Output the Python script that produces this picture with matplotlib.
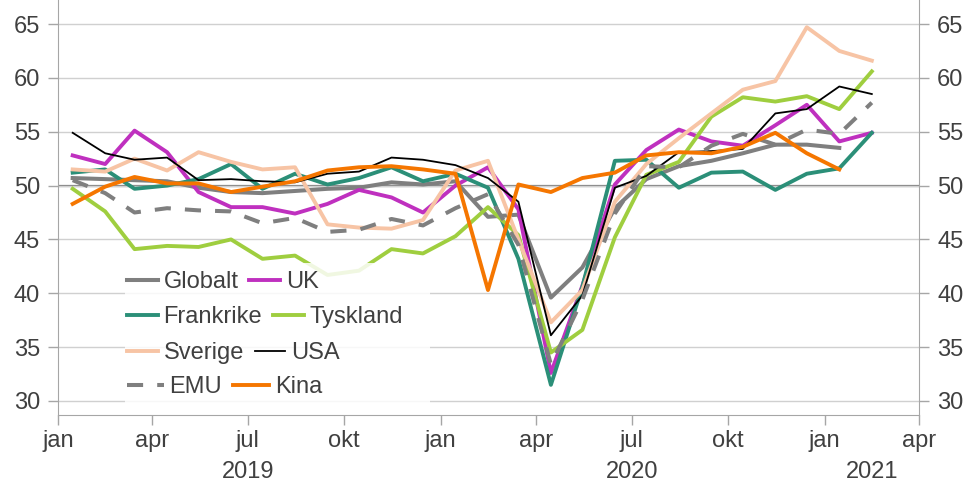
import numpy as np
import pandas as pd
import matplotlib
matplotlib.use("Agg")
import matplotlib.pyplot as plt
import matplotlib.dates as mdates
from matplotlib.patches import Rectangle
from matplotlib.transforms import blended_transform_factory

plt.rcParams['font.family'] = ['Liberation Sans', 'DejaVu Sans']

# PMI industri, månedlig, jan 2019 - feb 2021 (punkt midt i måneden)
months = pd.date_range("2019-01-01", periods=26, freq="MS") + pd.Timedelta(days=14)

globalt = [50.7, 50.6, 50.5, 50.4, 49.8, 49.4, 49.3, 49.5, 49.7, 49.8, 50.3, 50.1, 50.4,
           47.1, 47.3, 39.6, 42.4, 47.9, 50.6, 51.8, 52.3, 53.0, 53.8, 53.8, 53.5]
uk = [52.8, 52.0, 55.1, 53.1, 49.4, 48.0, 48.0, 47.4, 48.3, 49.6, 48.9, 47.5, 50.0,
      51.7, 47.8, 32.6, 40.7, 50.1, 53.3, 55.2, 54.1, 53.7, 55.6, 57.5, 54.1, 54.9]
frankrike = [51.2, 51.5, 49.7, 50.0, 50.6, 52.0, 49.7, 51.1, 50.1, 50.7, 51.7, 50.4, 51.1,
             49.8, 43.2, 31.5, 40.6, 52.3, 52.4, 49.8, 51.2, 51.3, 49.6, 51.1, 51.6, 54.9]
tyskland = [49.7, 47.6, 44.1, 44.4, 44.3, 45.0, 43.2, 43.5, 41.7, 42.1, 44.1, 43.7, 45.3,
            48.0, 45.4, 34.5, 36.6, 45.2, 51.0, 52.2, 56.4, 58.2, 57.8, 58.3, 57.1, 60.6]
sverige = [51.5, 51.3, 52.5, 51.4, 53.1, 52.2, 51.5, 51.7, 46.4, 46.1, 46.0, 46.8, 51.4,
           52.3, 45.0, 37.3, 40.3, 48.5, 52.0, 54.4, 56.7, 58.9, 59.7, 64.7, 62.5, 61.6]
usa = [54.9, 53.0, 52.4, 52.6, 50.5, 50.6, 50.4, 50.3, 51.1, 51.3, 52.6, 52.4, 51.9,
       50.7, 48.5, 36.1, 39.8, 49.8, 50.9, 53.1, 53.2, 53.4, 56.7, 57.1, 59.2, 58.5]
emu = [50.5, 49.3, 47.5, 47.9, 47.7, 47.6, 46.5, 47.0, 45.7, 45.9, 46.9, 46.3, 47.9,
       49.2, 44.5, 33.4, 39.4, 47.4, 51.8, 51.7, 53.7, 54.8, 53.8, 55.2, 54.8, 57.7]
kina = [48.3, 49.9, 50.8, 50.2, 50.2, 49.4, 49.9, 50.4, 51.4, 51.7, 51.8, 51.5, 51.1,
        40.3, 50.1, 49.4, 50.7, 51.2, 52.8, 53.1, 53.0, 53.6, 54.9, 53.0, 51.5]

month_labels = {1: "jan", 4: "apr", 7: "jul", 10: "okt"}
years = ["2019", "2020", "2021"]
year_pos = ["2019-07-01", "2020-07-01", "2021-02-15"]

W, H = 963, 483
fig = plt.figure(figsize=(W / 100, H / 100), dpi=100)
ax = fig.add_axes([58 / W, 68 / H, (919 - 58) / W, 415 / H])

text_col = '#404040'
spine_col = '#a6a6a6'

# grid + 50-linje
ax.set_ylim(28.7, 67.23)
ax.set_yticks(np.arange(30, 66, 5))
ax.grid(axis='y', color='#d0d0d0', lw=1.0, zorder=0)
ax.axhline(50, color='#7f7f7f', lw=1.6, zorder=1)

lines = {}
series = [
    ("Globalt", globalt, '#7f7f7f', 2.9, '-'),
    ("UK", uk, '#bf30bf', 2.8, '-'),
    ("Frankrike", frankrike, '#2b8f78', 2.8, '-'),
    ("Tyskland", tyskland, '#9fce3f', 2.8, '-'),
    ("Sverige", sverige, '#f7c4a5', 2.8, '-'),
    ("USA", usa, '#000000', 1.3, '-'),
    ("EMU", emu, '#7f7f7f', 2.9, (0, (4, 3.5))),
    ("Kina", kina, '#f57600', 2.8, '-'),
]
for name, vals, col, lw, ls in series:
    l, = ax.plot(months[:len(vals)], vals, color=col, lw=lw, ls=ls, label=name, zorder=2)
    lines[name] = l

# x-akse
ax.set_xlim(pd.Timestamp("2019-01-01"), pd.Timestamp("2021-04-01"))
ax.xaxis.set_major_locator(mdates.MonthLocator(bymonth=[1, 4, 7, 10]))
ax.xaxis.set_major_formatter(plt.FuncFormatter(lambda v, p: month_labels[mdates.num2date(v).month]))
trans = blended_transform_factory(ax.transData, ax.transAxes)
for yr, pos in zip(years, year_pos):
    ax.text(pd.Timestamp(pos), -0.137, yr, transform=trans, ha='center', va='center',
            fontsize=17, color=text_col)

ax.tick_params(axis='x', direction='out', length=7, width=1, color=spine_col,
               labelsize=17, labelcolor=text_col, pad=4)
ax.tick_params(axis='y', direction='out', length=7, width=1, color=spine_col,
               labelsize=17, labelcolor=text_col, left=True, right=True,
               labelleft=True, labelright=True, pad=6)

for s in ['left', 'right', 'bottom']:
    ax.spines[s].set_color(spine_col)
ax.spines['top'].set_visible(False)

# legend med hvit bakgrunn
bg = Rectangle((125 / W, 1 - 407 / H), (430 - 125) / W, (407 - 263) / H,
               transform=fig.transFigure, facecolor='white', edgecolor='none', alpha=0.85, zorder=3)
fig.add_artist(bg)

rows = [("Globalt", "UK"), ("Frankrike", "Tyskland"), ("Sverige", "USA"), ("EMU", "Kina")]
row_y = [282, 317, 353, 387]
for (a, b), y in zip(rows, row_y):
    hl = 1.55 if a == "EMU" else 1.3
    leg = fig.legend(handles=[lines[a], lines[b]], loc='center left',
                     bbox_to_anchor=(127 / W, 1 - y / H), bbox_transform=fig.transFigure,
                     ncol=2, frameon=False, borderpad=0, borderaxespad=0,
                     handlelength=hl, handletextpad=0.25, columnspacing=0.45,
                     fontsize=17, labelcolor=text_col)
    leg.set_zorder(5)

fig.savefig("out.png", dpi=100)
